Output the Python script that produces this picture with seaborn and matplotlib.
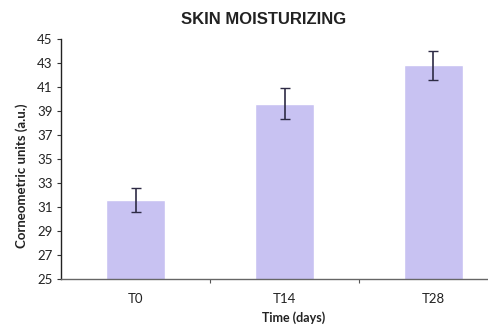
import matplotlib
matplotlib.use("Agg")
import matplotlib.pyplot as plt
import seaborn as sns
import pandas as pd

categories = ["T0", "T14", "T28"]
values = [31.6, 39.6, 42.8]
errors = [1.0, 1.3, 1.2]
yticks = [25, 27, 29, 31, 33, 35, 37, 39, 41, 43, 45]

sns.set_style("white")
plt.rcParams['font.family'] = ['Lato', 'DejaVu Sans']

df = pd.DataFrame({"time": categories, "value": values})

fig = plt.figure(figsize=(4.88, 3.33), dpi=100)
ax = fig.add_axes([61/488, (333-279)/333, (508-61)/488, (279-39)/333])

sns.barplot(data=df, x="time", y="value", ax=ax, color="#C8C2F2",
            saturation=1, width=0.40, errorbar=None)
ax.errorbar(range(len(categories)), values, yerr=errors, fmt="none",
            ecolor="#2E2B45", elinewidth=1.2, capsize=3.3, capthick=1.0)

ax.set_ylim(25, 45)
ax.set_xlim(-0.5, 2.5)
ax.set_yticks(yticks)
ax.set_yticklabels([str(t) for t in yticks], fontsize=9.5, color="#222222")
ax.set_xticks(range(len(categories)))
ax.set_xticklabels(categories, fontsize=9.5, color="#222222")
ax.set_xticks([0.5, 1.5], minor=True)
ax.tick_params(axis="x", which="major", length=0, pad=10)
ax.tick_params(axis="x", which="minor", length=3, width=0.8, color="#555555", direction="out", bottom=True)
ax.tick_params(axis="y", which="major", length=3, width=0.8, color="#333333", direction="out", left=True, pad=3)

for s in ["top", "right"]:
    ax.spines[s].set_visible(False)
ax.spines["left"].set_color("#222222")
ax.spines["left"].set_linewidth(1.0)
ax.spines["bottom"].set_color("#666666")
ax.spines["bottom"].set_linewidth(1.0)
ax.spines["bottom"].set_linestyle((0, (2, 1)))

ax.set_xlabel("")
ax.set_ylabel("")

fig.text(0.541, 1 - 20/333, "SKIN MOISTURIZING", ha="center", va="center",
         fontsize=12, fontweight="bold", family=["Liberation Sans", "DejaVu Sans"], color="#222222")
fig.text(22/488, 1 - 176/333, "Corneometric units (a.u.)", rotation=90, ha="center", va="center",
         fontsize=9.5, fontweight="bold", color="#222222")
fig.text(294/488, 1 - 318/333, "Time (days)", ha="center", va="center",
         fontsize=9, fontweight="bold", color="#222222")

fig.savefig("out.png", dpi=100)
